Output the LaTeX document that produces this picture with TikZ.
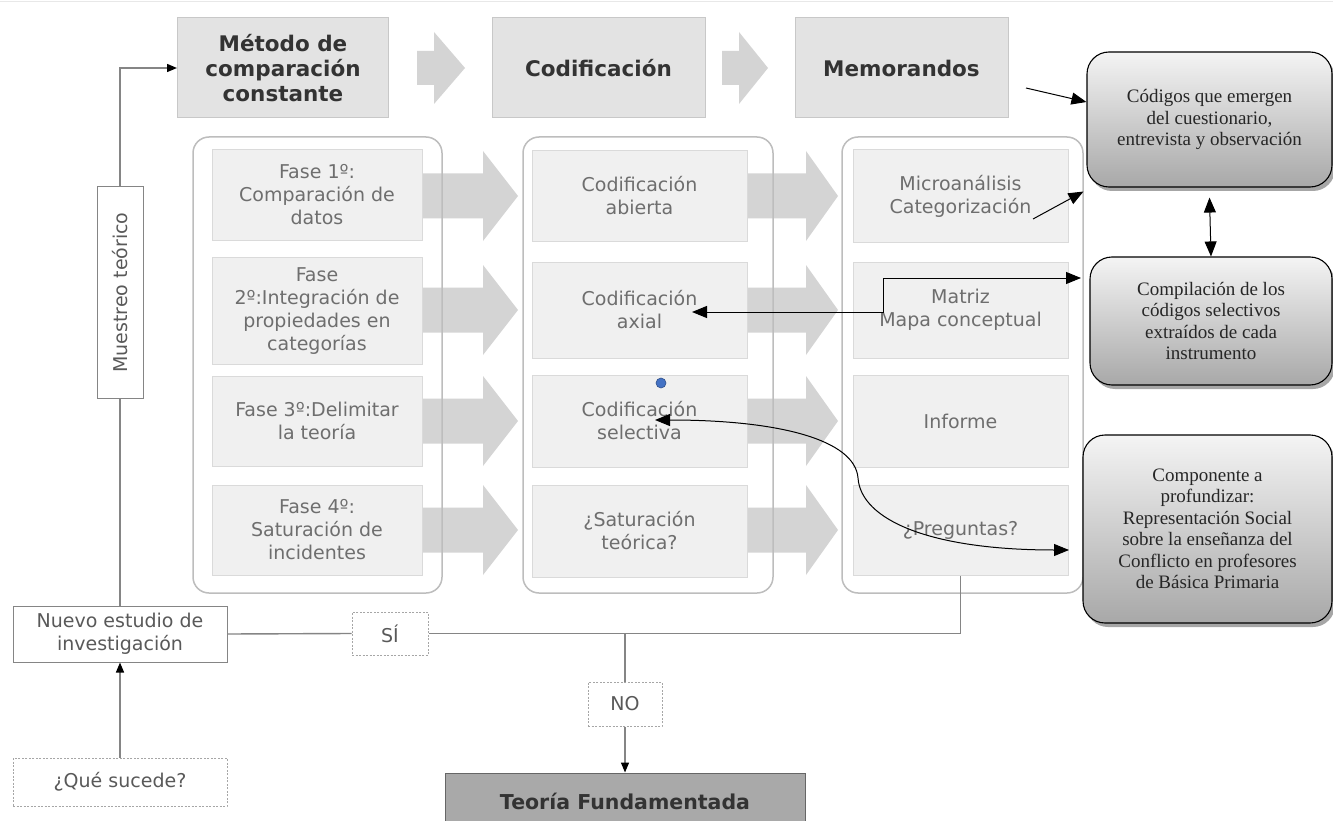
\documentclass[tikz,border=0pt]{standalone}
\usepackage{fontspec}
\setmainfont{DejaVu Sans}
\newfontfamily\timesf{Liberation Serif}
\usetikzlibrary{arrows.meta,shadows}
\definecolor{hdrfill}{HTML}{E3E3E3}
\definecolor{hdrline}{HTML}{C8C8C8}
\definecolor{hdrtext}{HTML}{333333}
\definecolor{cellfill}{HTML}{F0F0F0}
\definecolor{cellline}{HTML}{DADADA}
\definecolor{celltext}{HTML}{6E6E6E}
\definecolor{contline}{HTML}{BDBDBD}
\definecolor{arrfill}{HTML}{D4D4D4}
\definecolor{flowline}{HTML}{858585}
\definecolor{notetop}{HTML}{F4F4F4}
\definecolor{notebot}{HTML}{A8A8A8}
\definecolor{tffill}{HTML}{A9A9A9}
\definecolor{dotblue}{HTML}{4472C4}
\newcommand{\blkarrow}[6]{\fill[arrfill] (#1,#4-#5) -- (#2,#4-#5) -- (#2,#4-#6) -- (#3,#4) -- (#2,#4+#6) -- (#2,#4+#5) -- (#1,#4+#5) -- cycle;}
\begin{document}
\begin{tikzpicture}[x=1pt,y=-1pt,
  hdr/.style={draw=hdrline, fill=hdrfill, line width=1pt, text=hdrtext,
    font=\bfseries\fontsize{21.5}{25}\selectfont, align=center, inner sep=0pt,
    minimum width=211pt, minimum height=100pt},
  cont/.style={draw=contline, line width=1.5pt, rounded corners=16pt},
  cell/.style={draw=cellline, fill=cellfill, line width=1pt, text=celltext,
    font=\fontsize{19}{23}\selectfont, align=center, inner sep=0pt},
  note/.style={draw=black, line width=1.1pt, rounded corners=22pt,
    top color=notetop, bottom color=notebot, text=black!85,
    font=\timesf\fontsize{19}{21.5}\selectfont, align=center, inner sep=0pt,
    drop shadow={shadow xshift=3pt, shadow yshift=-4pt, opacity=0.35, fill=black}},
  pbox/.style={draw=flowline, fill=white, line width=1pt, text=black!65,
    font=\fontsize{19}{23}\selectfont, align=center, inner sep=0pt},
  dbox/.style={pbox, draw=gray!70, dash pattern=on 2pt off 1.5pt},
  flow/.style={draw=flowline, line width=1.4pt},
  ftip/.style={-{Triangle[length=10pt,width=8pt,fill=black,color=black]}},
  arr/.style={draw=black, line width=1pt, -{Triangle[length=15pt,width=12pt]}},
  arrb/.style={draw=black, line width=1pt, {Triangle[length=15pt,width=12pt]}-{Triangle[length=15pt,width=12pt]}}
]
\useasboundingbox (0,0) rectangle (1333,821);
\fill[white] (0,0) rectangle (1333,821);
\draw[gray!18, line width=1pt] (0,2) -- (1333,2);

% header row
\node[hdr] (m) at (283,68) {Método de\\comparación\\constante};
\node[hdr, minimum width=213pt] (cod) at (598.5,68) {Codificación};
\node[hdr, minimum width=213pt] (mem) at (901.5,68) {Memorandos};
\blkarrow{417}{434}{465}{68}{17}{36}
\blkarrow{722}{739}{768}{68}{17}{36}

% big arrows between columns
\foreach \yc in {196,310,421,530}{
  \blkarrow{423}{483}{518}{\yc}{22.5}{45}
  \blkarrow{748}{806}{838}{\yc}{22.5}{45}
}

% containers
\node[cont, minimum width=249pt, minimum height=456pt] (lc) at (317.5,365) {};
\node[cont, minimum width=250pt, minimum height=456pt] (mc) at (648,365) {};
\node[cont, minimum width=241pt, minimum height=456pt] (rc) at (962.5,365) {};

% left column
\node[cell, minimum width=210pt, minimum height=90pt] (f1) at (317,195) {Fase 1º:\\Comparación de\\datos};
\node[cell, minimum width=210pt, minimum height=107pt] (f2) at (317,311) {Fase\\2º:Integración de\\propiedades en\\categorías};
\node[cell, minimum width=210pt, minimum height=90pt] (f3) at (317,421) {Fase 3º:Delimitar\\la teoría};
\node[cell, minimum width=210pt, minimum height=90pt] (f4) at (317,530) {Fase 4º:\\Saturación de\\incidentes};

% middle column
\node[cell, minimum width=215pt, minimum height=90pt] (c1) at (639.5,196) {Codificación\\abierta};
\node[cell, minimum width=215pt, minimum height=96pt] (c2) at (639.5,310) {Codificación\\axial};
\node[cell, minimum width=215pt, minimum height=92pt] (c3) at (639.5,421) {Codificación\\selectiva};
\node[cell, minimum width=215pt, minimum height=92pt] (c4) at (639.5,531) {¿Saturación\\teórica?};

% right column
\node[cell, minimum width=215pt, minimum height=92pt] (r1) at (960.5,196) {Microanálisis\\Categorización};
\node[cell, minimum width=215pt, minimum height=96pt] (r2) at (960.5,310) {Matriz\\Mapa conceptual};
\node[cell, minimum width=215pt, minimum height=92pt] (r3) at (960.5,421) {Informe};
\node[cell, minimum width=215pt, minimum height=90pt] (r4) at (960.5,530) {¿Preguntas?};

% left flow
\node[pbox, rotate=90, minimum width=211pt, minimum height=46pt] (ms) at (120,292.5) {Muestreo teórico};
\node[pbox, minimum width=214pt, minimum height=56pt] (nv) at (120,634) {Nuevo estudio de\\investigación};
\node[dbox, minimum width=214pt, minimum height=48pt] (qs) at (120,782) {¿Qué sucede?};
\node[dbox, minimum width=76pt, minimum height=43pt] (si) at (390,633.5) {SÍ};
\node[dbox, minimum width=74pt, minimum height=44pt] (no) at (625,704) {NO};
\node[pbox, fill=tffill, draw=gray!80!black, text=black!80, font=\bfseries\fontsize{20.5}{24}\selectfont,
  minimum width=360pt, minimum height=56pt] (tf) at (625,801) {Teoría Fundamentada};

\draw[flow] (nv.north) -- (ms.west);
\draw[flow, ftip] (ms.east) |- (m.west);
\draw[flow, ftip] (qs.north) -- (nv.south);
\draw[flow] (nv.east) -- (si.west);
\draw[flow] (r4.south) |- (si.east);
\draw[flow] (no.north) -- (no.north |- si.east);
\draw[flow, ftip] (no.south) -- (tf.north);

% right notes
\node[note, minimum width=245pt, minimum height=135pt] (A) at (1209.5,119.5) {Códigos que emergen\\del cuestionario,\\entrevista y observación};
\node[note, minimum width=242pt, minimum height=128pt] (B) at (1211,321) {Compilación de los\\códigos selectivos\\extraídos de cada\\instrumento};
\node[note, minimum width=249pt, minimum height=188pt] (C) at (1207.5,529) {Componente a\\profundizar:\\Representación Social\\sobre la enseñanza del\\Conflicto en profesores\\de Básica Primaria};

% black connectors
\coordinate (p1) at (1026,88);
\coordinate (p2) at (1033,219);
\coordinate (ax) at (692,312);
\coordinate (bt) at (1081,278);
\coordinate (s1) at (655,420);
\coordinate (s2) at (1069,550);
\draw[arr] (p1) -- ([yshift=17.5pt]A.west);
\draw[arr] (p2) -- ([xshift=-3pt,yshift=-4pt]A.south west);
\draw[arrb] ([yshift=-10pt]A.south) -- (B.north);
\draw[arrb] (ax) -- (883,312) |- (bt);
\draw[arrb] (s1) .. controls (780,420) and (855,440) .. (858,478) .. controls (861,520) and (930,550) .. (s2);

% blue dot
\fill[dotblue, draw=dotblue!70!black, line width=0.6pt] (661,383) circle (5pt);
\end{tikzpicture}
\end{document}
